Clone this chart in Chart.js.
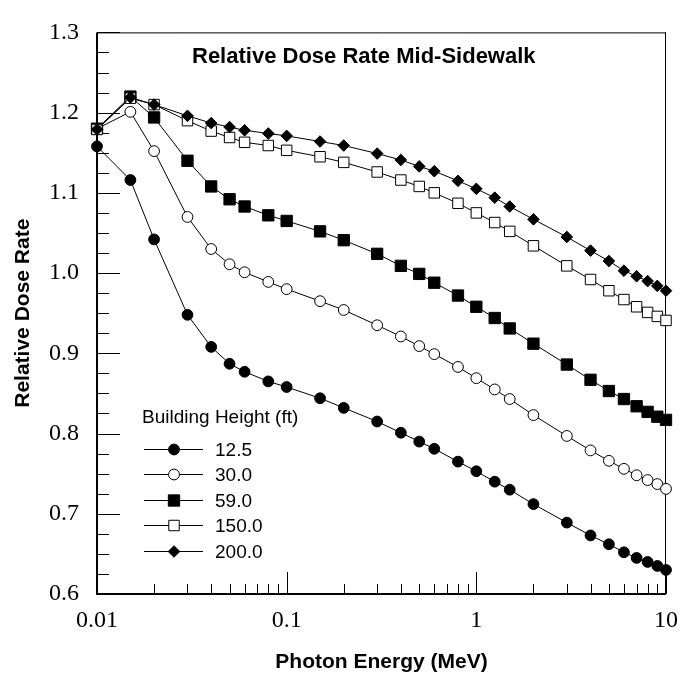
<!DOCTYPE html>
<html>
<head>
<meta charset="utf-8">
<title>Relative Dose Rate Mid-Sidewalk</title>
<script src="https://cdn.jsdelivr.net/npm/chart.js@4.4.1/dist/chart.umd.min.js"></script>
<style>
    html, body { margin: 0; padding: 0; background: #fff; }
    #wrap { width: 690px; height: 679px; }
</style>
</head>
<body>
<div id="wrap"><canvas id="doseChart" width="690" height="679"></canvas></div>
<script>
// ============================================
// DATA (photon energy in MeV, relative dose rate)
// ============================================

const energies = [0.01, 0.015, 0.02, 0.03, 0.04, 0.05, 0.06, 0.08, 0.1, 0.15, 0.2, 0.3, 0.4, 0.5,
    0.6, 0.8, 1, 1.25, 1.5, 2, 3, 4, 5, 6, 7, 8, 9, 10];

const heightLabels = ['12.5', '30.0', '59.0', '150.0', '200.0'];

const rate12_5 = [1.158, 1.116, 1.042, 0.948, 0.908, 0.887, 0.877, 0.865, 0.858, 0.844, 0.832, 0.815,
    0.801, 0.790, 0.781, 0.765, 0.753, 0.740, 0.730, 0.712, 0.689, 0.673, 0.662, 0.652, 0.645, 0.640, 0.635, 0.630];
const rate30 = [1.180, 1.201, 1.152, 1.070, 1.030, 1.011, 1.001, 0.989, 0.980, 0.965, 0.954, 0.935,
    0.921, 0.909, 0.899, 0.883, 0.869, 0.855, 0.843, 0.823, 0.797, 0.779, 0.766, 0.756, 0.748, 0.742, 0.737, 0.731];
const rate59 = [1.180, 1.220, 1.194, 1.140, 1.108, 1.092, 1.083, 1.072, 1.065, 1.052, 1.041, 1.024,
    1.009, 0.999, 0.988, 0.972, 0.958, 0.944, 0.931, 0.912, 0.886, 0.867, 0.853, 0.843, 0.834, 0.827, 0.821, 0.817];
const rate150 = [1.179, 1.218, 1.210, 1.190, 1.177, 1.169, 1.163, 1.159, 1.153, 1.145, 1.138, 1.126,
    1.116, 1.108, 1.100, 1.087, 1.075, 1.063, 1.052, 1.034, 1.009, 0.992, 0.978, 0.967, 0.958, 0.951, 0.946, 0.941];
const rate200 = [1.179, 1.219, 1.210, 1.196, 1.187, 1.182, 1.178, 1.174, 1.171, 1.164, 1.159, 1.149,
    1.141, 1.133, 1.127, 1.115, 1.105, 1.094, 1.083, 1.067, 1.045, 1.028, 1.015, 1.003, 0.996, 0.990, 0.984, 0.978];

const xTickValues = [0.01, 0.1, 1, 10];
const yTickValues = [0.6, 0.7, 0.8, 0.9, 1.0, 1.1, 1.2, 1.3];
const yMinorStep = 0.025;

const SERIF = '"Liberation Serif", "Times New Roman", serif';
const SANS = '"Liberation Sans", Arial, sans-serif';

// marker look per building height
const markerStyles = [
    { pointStyle: 'circle',  radius: 5.4, fill: '#000' },
    { pointStyle: 'circle',  radius: 5.4, fill: '#fff' },
    { pointStyle: 'rect',    radius: 8.0, fill: '#000' },
    { pointStyle: 'rect',    radius: 7.4, fill: '#fff' },
    { pointStyle: 'rectRot', radius: 5.8, fill: '#000' }
];

const allRates = [rate12_5, rate30, rate59, rate150, rate200];

function toPoints(values) {
    return energies.map((e, i) => ({ x: e, y: values[i] }));
}

const datasets = allRates.map((values, i) => ({
    label: heightLabels[i],
    data: toPoints(values),
    borderColor: '#000',
    borderWidth: 1,
    tension: 0,
    fill: false,
    clip: false,
    order: allRates.length - i,   // taller buildings drawn on top
    pointStyle: markerStyles[i].pointStyle,
    pointRadius: markerStyles[i].radius,
    pointBackgroundColor: markerStyles[i].fill,
    pointBorderColor: '#000',
    pointBorderWidth: 1
}));

// ============================================
// PLUGINS: frame with inside ticks, title and legend
// ============================================

const axisFrame = {
    id: 'axisFrame',
    beforeDatasetsDraw(chart) {
        const { ctx, chartArea: a, scales: { x, y } } = chart;
        ctx.save();
        ctx.strokeStyle = '#000';
        ctx.lineWidth = 1;
        ctx.beginPath();

        // y ticks, long on every 0.1
        const nY = Math.round((y.max - y.min) / yMinorStep);
        for (let i = 0; i <= nY; i++) {
            const py = Math.round(y.getPixelForValue(y.min + i * yMinorStep)) + 0.5;
            const len = i % 4 === 0 ? 23 : 12;
            ctx.moveTo(a.left, py);
            ctx.lineTo(a.left + len, py);
        }

        // x ticks, long on every decade
        for (let d = 0; d < xTickValues.length; d++) {
            for (let m = 1; m <= 9; m++) {
                const v = xTickValues[d] * m;
                if (v > x.max * 1.0001) continue;
                const px = Math.round(x.getPixelForValue(v)) + 0.5;
                const len = m === 1 ? 22 : 10;
                ctx.moveTo(px, a.bottom);
                ctx.lineTo(px, a.bottom - len);
            }
        }
        ctx.stroke();

        // box
        ctx.beginPath();
        ctx.moveTo(a.left, a.top + 0.5);
        ctx.lineTo(a.right, a.top + 0.5);
        ctx.moveTo(a.right - 0.5, a.top);
        ctx.lineTo(a.right - 0.5, a.bottom);
        ctx.stroke();

        ctx.lineWidth = 2;
        ctx.beginPath();
        ctx.moveTo(a.left, a.top);
        ctx.lineTo(a.left, a.bottom);
        ctx.lineTo(a.right, a.bottom);
        ctx.stroke();
        ctx.restore();
    }
};

function drawMarker(ctx, style, cx, cy) {
    ctx.fillStyle = style.fill;
    ctx.strokeStyle = '#000';
    ctx.lineWidth = 1;
    Chart.helpers.drawPoint(ctx, {
        pointStyle: style.pointStyle,
        radius: style.radius,
        rotation: 0,
        borderWidth: 1
    }, cx, cy);
}

const chartNotes = {
    id: 'chartNotes',
    afterDraw(chart) {
        const { ctx } = chart;
        ctx.save();
        ctx.fillStyle = '#000';

        // title inside the plot
        ctx.font = 'bold 22px ' + SANS;
        ctx.textAlign = 'left';
        ctx.textBaseline = 'alphabetic';
        ctx.fillText('Relative Dose Rate Mid-Sidewalk', 192, 63);

        // legend
        ctx.font = '19px ' + SANS;
        ctx.fillText('Building Height (ft)', 142, 423);
        heightLabels.forEach((label, i) => {
            const ry = Math.round(449 + i * 25.4) + 0.5;
            ctx.strokeStyle = '#000';
            ctx.lineWidth = 1;
            ctx.beginPath();
            ctx.moveTo(144, ry);
            ctx.lineTo(203, ry);
            ctx.stroke();
            drawMarker(ctx, markerStyles[i], 174, ry);
            ctx.fillStyle = '#000';
            ctx.textBaseline = 'middle';
            ctx.fillText(label, 215, ry + 1);
        });
        ctx.restore();
    }
};

// ============================================
// CHART
// ============================================

const ctx = document.getElementById('doseChart').getContext('2d');

new Chart(ctx, {
    type: 'line',
    data: { datasets },
    options: {
        responsive: false,
        animation: false,
        layout: { padding: { left: 0, right: 14, top: 16, bottom: 0 } },
        plugins: {
            legend: { display: false },
            tooltip: { enabled: false },
            title: { display: false }
        },
        scales: {
            x: {
                type: 'logarithmic',
                min: 0.01,
                max: 10,
                grid: { display: false, drawTicks: false },
                border: { display: false },
                afterBuildTicks: (scale) => { scale.ticks = xTickValues.map(v => ({ value: v })); },
                afterFit: (scale) => { scale.height = 85; },
                ticks: {
                    padding: 12,
                    color: '#000',
                    autoSkip: false,
                    maxRotation: 0,
                    font: { family: SERIF, size: 24 },
                    callback: (v) => String(v)
                },
                title: {
                    display: true,
                    text: 'Photon Energy (MeV)',
                    color: '#000',
                    font: { family: SANS, size: 21, weight: 'bold' },
                    padding: { top: 0, bottom: 4 }
                }
            },
            y: {
                type: 'linear',
                min: 0.6,
                max: 1.3,
                grid: { display: false, drawTicks: false },
                border: { display: false },
                afterBuildTicks: (scale) => { scale.ticks = yTickValues.map(v => ({ value: v })); },
                afterFit: (scale) => { scale.width = 97; },
                ticks: {
                    padding: 18,
                    color: '#000',
                    font: { family: SERIF, size: 24 },
                    callback: (v) => Number(v).toFixed(1)
                },
                title: {
                    display: true,
                    text: 'Relative Dose Rate',
                    color: '#000',
                    font: { family: SANS, size: 21, weight: 'bold' },
                    padding: { top: 11, bottom: 0 }
                }
            }
        }
    },
    plugins: [axisFrame, chartNotes]
});
</script>
</body>
</html>
